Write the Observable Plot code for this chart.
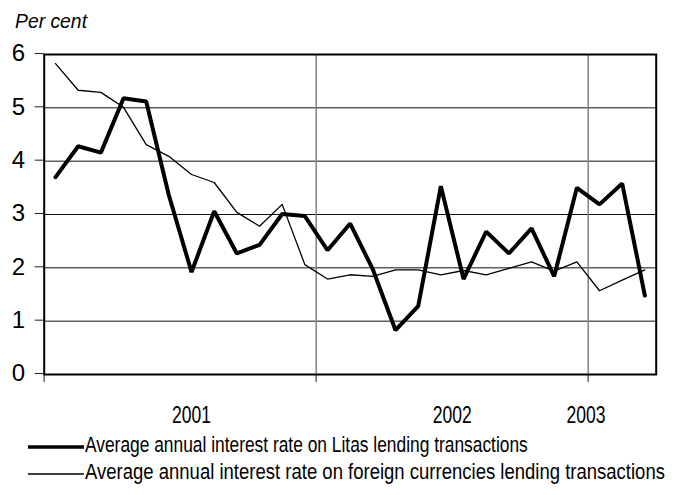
<!DOCTYPE html>
<html>
<head>
<meta charset="utf-8">
<script src="https://cdn.jsdelivr.net/npm/d3@7"></script>
<script src="https://cdn.jsdelivr.net/npm/@observablehq/plot@0.6"></script>
<style>
  html, body { margin: 0; padding: 0; background: #fff; }
  svg { display: block; }
</style>
</head>
<body>
<div id="chart"></div>
<script>
// Monthly observations, Jan 2001 – Mar 2003
const periods = [
  "2001-01","2001-02","2001-03","2001-04","2001-05","2001-06",
  "2001-07","2001-08","2001-09","2001-10","2001-11","2001-12",
  "2002-01","2002-02","2002-03","2002-04","2002-05","2002-06",
  "2002-07","2002-08","2002-09","2002-10","2002-11","2002-12",
  "2003-01","2003-02","2003-03"
];
const litas = [3.70,4.28,4.16,5.18,5.12,3.36,1.92,3.06,2.27,2.43,3.01,2.97,
               2.33,2.83,1.97,0.83,1.28,3.53,1.79,2.68,2.27,2.74,1.84,3.50,
               3.19,3.58,1.48];
const foreign = [5.83,5.33,5.29,5.01,4.31,4.09,3.75,3.60,3.04,2.78,3.19,2.06,
                 1.79,1.87,1.84,1.96,1.96,1.87,1.95,1.87,1.99,2.11,1.94,2.11,
                 1.57,1.77,1.96];
const yTicks = [0,1,2,3,4,5,6];
const yearLabels = ["2001","2002","2003"];
const yearLabelAt = [6.5, 18, 23.9];
const yearBoundaries = [0, 12, 24];
const seriesNames = [
  "Average annual interest rate on Litas lending transactions",
  "Average annual interest rate on foreign currencies lending transactions"
];
const yAxisTitle = "Per cent";

const rows = periods.map((p, i) => ({i, p, litas: litas[i], foreign: foreign[i]}));
const font = "'Liberation Sans', Arial, Helvetica, sans-serif";

const chart = Plot.plot({
  width: 677,
  height: 495,
  marginLeft: 43.7,
  marginRight: 21.3,
  marginTop: 54,
  marginBottom: 121,
  style: {fontFamily: font, fontSize: "24px", color: "#000", background: "#fff", overflow: "visible"},
  x: {type: "linear", domain: [0, periods.length], axis: null},
  y: {domain: [0, 6], axis: null},
  marks: [
    Plot.ruleY(yTicks.filter(d => d > 0 && d < 6), {stroke: "#111", strokeWidth: 1}),
    Plot.ruleX(yearBoundaries.filter(d => d > 0), {stroke: "#808080", strokeWidth: 1.5}),
    Plot.axisY(yTicks, {tickSize: 9, tickPadding: 10, fontSize: 24, stroke: "#222", strokeWidth: 1,
      dy: -1, tickFormat: d => String(d)}),
    Plot.axisX(yearBoundaries, {tickSize: 8, tickFormat: () => "", stroke: "#666", strokeWidth: 1.5}),
    Plot.axisX(yearLabelAt, {tickSize: 0, tickPadding: 31, fontSize: 24,
      tickFormat: d => yearLabels[yearLabelAt.indexOf(d)]}),
    Plot.line(rows, {x: d => d.i + 0.5, y: "foreign", stroke: "#000", strokeWidth: 1.3}),
    Plot.line(rows, {x: d => d.i + 0.5, y: "litas", stroke: "#000", strokeWidth: 4, strokeLinejoin: "miter"}),
    Plot.frame({stroke: "#000", strokeWidth: 2})
  ]
});

document.getElementById("chart").appendChild(chart);

const svg = d3.select(chart);
// compress year labels like the reference
svg.selectAll('g[aria-label="x-axis tick label"] text').each(function () {
  const t = d3.select(this);
  if (t.text().trim() !== "") {
    t.attr("textLength", 39).attr("lengthAdjust", "spacingAndGlyphs");
  }
});

// y-axis title
svg.append("text")
  .attr("x", 15).attr("y", 28.3)
  .attr("text-anchor", "start")
  .attr("font-family", font).attr("font-size", 20).attr("font-style", "italic")
  .attr("textLength", 72).attr("lengthAdjust", "spacingAndGlyphs")
  .text(yAxisTitle);

// legend (text horizontally condensed with a scale transform)
const legend = [
  {name: seriesNames[0], sw: 3.6, x1: 28, x2: 84, ly: 447, ty: 452, len: 443},
  {name: seriesNames[1], sw: 1.3, x1: 28, x2: 84, ly: 474, ty: 479, len: 580}
];
const lg = svg.append("g").attr("text-anchor", "start");
legend.forEach(l => {
  lg.append("line").attr("x1", l.x1).attr("x2", l.x2).attr("y1", l.ly).attr("y2", l.ly)
    .attr("stroke", "#000").attr("stroke-width", l.sw);
  const g = lg.append("g");
  const t = g.append("text").attr("x", 0).attr("y", 0)
    .attr("text-anchor", "start")
    .attr("font-family", font).attr("font-size", 22)
    .text(l.name);
  const natural = t.node().getComputedTextLength() || l.len;
  const k = Math.min(1, l.len / natural);
  g.attr("transform", `translate(85,${l.ty}) scale(${k},1)`);
});
</script>
</body>
</html>
